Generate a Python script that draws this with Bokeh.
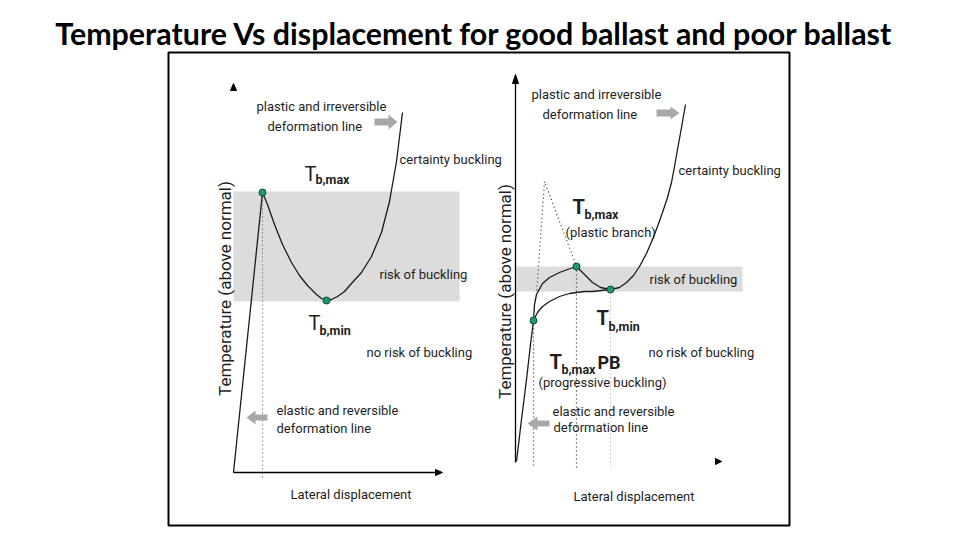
import math
from bokeh.plotting import figure
from bokeh.models import Range1d
from bokeh.core.properties import value
from bokeh.embed import file_html
from bokeh.resources import INLINE

# ---------------- data (schematic; screen-pixel space) -------------
TITLE = "Temperature Vs displacement for good ballast and poor ballast"

# Good ballast (left panel)
good_elastic_x = [234, 263]
good_elastic_y = [473, 193]
good_curve_x = [263, 268, 275, 283, 292, 300, 308, 317, 322, 327, 332, 338, 345, 352, 362, 372, 382, 390, 397, 403]
good_curve_y = [193, 205, 225, 245, 263, 276, 286, 295, 299, 301, 300, 297, 292, 284, 273, 257, 233, 202, 162, 113]
good_pts_x = [263, 327]
good_pts_y = [193, 301]
good_band = dict(left=234, right=460, top=192, bottom=302)

# Poor ballast (right panel)
poor_elastic_x = [517, 522, 527, 531, 534, 535, 537]
poor_elastic_y = [462, 420, 380, 345, 321, 305, 295]
poor_upper_x = [537, 543, 550, 560, 568, 577, 585, 593, 601, 611, 620, 627, 634, 640, 647, 653, 658, 663, 668, 672, 675, 678, 682, 686]
poor_upper_y = [295, 284, 278, 273, 270, 267, 275, 283, 288, 290, 288, 283, 276, 267, 254, 240, 227, 213, 198, 183, 167, 150, 128, 105]
poor_lower_x = [534, 538, 543, 550, 560, 570, 577, 585, 593, 602, 611]
poor_lower_y = [321, 313, 307, 302, 297, 294, 293, 292, 292, 291, 290]
poor_dotted_x = [537, 545, 577]
poor_dotted_y = [295, 182, 267]
poor_pts_x = [534, 577, 611]
poor_pts_y = [321, 267, 290]
poor_band = dict(left=517, right=743, top=267, bottom=292)

# ---------------- figure ----------------
p = figure(width=944, height=532, x_range=Range1d(1, 945), y_range=Range1d(533, 1),
           output_backend="svg", toolbar_location=None, min_border=0)
p.axis.visible = False
p.grid.visible = False
p.outline_line_color = None
p.background_fill_color = "white"

FONT = value("Roboto")
TXT = "#1e1e1e"

# title
p.text(x=[475], y=[33], text=[TITLE], text_font=value("Lato"), text_font_style="bold",
       text_font_size="30.4px", text_align="center", text_baseline="middle", text_color="black")

# frame
p.quad(left=[169], right=[790], top=[53], bottom=[526], fill_color=None, line_color="black", line_width=2)

# bands
for b in (good_band, poor_band):
    p.quad(left=[b["left"]], right=[b["right"]], top=[b["top"]], bottom=[b["bottom"]],
           fill_color="#dcdcdc", line_color=None)

# dotted verticals
p.segment(x0=[good_pts_x[0]], y0=[good_pts_y[0]], x1=[good_pts_x[0]], y1=[480],
          line_color="#555555", line_width=1, line_dash="1 3")
p.segment(x0=poor_pts_x[:2], y0=poor_pts_y[:2], x1=poor_pts_x[:2], y1=[468, 468],
          line_color="#222222", line_width=1.2, line_dash="1 3")
p.segment(x0=[poor_pts_x[2]], y0=[poor_pts_y[2]], x1=[poor_pts_x[2]], y1=[468],
          line_color="#aaaaaa", line_width=1, line_dash="1 3")
p.line(poor_dotted_x, poor_dotted_y, line_color="#333333", line_width=1.2, line_dash="1 3")

# axes
p.line([234, 440], [473, 473], line_color="black", line_width=1.3)
p.line([516, 516], [463, 80], line_color="black", line_width=1.3)
p.patches(xs=[[231, 234, 237], [436, 443, 436], [513, 516, 519], [716, 722, 716]],
          ys=[[91, 84, 91], [470, 473, 476], [84, 75, 84], [459, 462, 465]],
          fill_color="black", line_color="black")

# curves
p.line(good_elastic_x, good_elastic_y, line_color="#1a1a1a", line_width=1.3)
p.line(good_curve_x, good_curve_y, line_color="#1a1a1a", line_width=1.3)
p.line(poor_elastic_x, poor_elastic_y, line_color="#1a1a1a", line_width=1.3)
p.line(poor_upper_x, poor_upper_y, line_color="#1a1a1a", line_width=1.3)
p.line(poor_lower_x, poor_lower_y, line_color="#1a1a1a", line_width=1.3)

# points
p.scatter(good_pts_x + poor_pts_x, good_pts_y + poor_pts_y, size=7,
          fill_color="#1f9a72", line_color="#0b4a36", line_width=1)

# gray block arrows
p.patches(
    xs=[[375, 389, 389, 398, 389, 389, 375], [268, 256, 256, 247, 256, 256, 268],
        [657, 671, 671, 680, 671, 671, 657], [550, 538, 538, 528, 538, 538, 550]],
    ys=[[119, 119, 115, 122.5, 130, 126, 126], [415, 415, 411, 418, 425, 421, 421],
        [110, 110, 107, 113.5, 120, 117, 117], [421, 421, 417, 424, 431, 427, 427]],
    fill_color="#a8a8a8", line_color=None)

# plain labels: (x_left, y_center, text)
labels = [
    (257, 107, "plastic and irreversible"), (268, 127, "deformation line"),
    (400, 160, "certainty buckling"), (380, 275, "risk of buckling"),
    (367, 353, "no risk of buckling"), (277, 411, "elastic and reversible"),
    (277, 429, "deformation line"), (291, 495, "Lateral displacement"),
    (532, 95, "plastic and irreversible"), (543, 115, "deformation line"),
    (679, 171, "certainty buckling"), (566, 233, "(plastic branch)"),
    (650, 280, "risk of buckling"), (649, 353, "no risk of buckling"),
    (539, 383, "(progressive buckling)"), (553, 412, "elastic and reversible"),
    (554, 428, "deformation line"), (574, 497, "Lateral displacement"),
]
p.text(x=[l[0] for l in labels], y=[l[1] for l in labels], text=[l[2] for l in labels],
       text_font=FONT, text_font_size="13px", text_align="left", text_baseline="middle",
       text_color=TXT)

# rotated axis titles
p.text(x=[225, 505], y=[289, 292], text=["Temperature (above normal)"] * 2, angle=math.pi / 2,
       text_font=FONT, text_font_size="17px", text_align="center", text_baseline="middle",
       text_color=TXT)

# T symbols with subscripts
p.text(x=[305, 309], y=[174, 323], text=["T", "T"], text_font=FONT, text_font_size="20px",
       text_align="left", text_baseline="middle", text_color=TXT)
p.text(x=[573, 597, 550], y=[207, 318, 362], text=["T", "T", "T"], text_font=FONT,
       text_font_style="bold", text_font_size="20px", text_align="left",
       text_baseline="middle", text_color=TXT)
p.text(x=[316, 320, 585, 609, 562], y=[180, 331, 215, 327, 370],
       text=["b,max", "b,min", "b,max", "b,min", "b,max"], text_font=FONT,
       text_font_style="bold", text_font_size="12.5px", text_align="left",
       text_baseline="middle", text_color=TXT)
p.text(x=[598], y=[363], text=["PB"], text_font=FONT, text_font_style="bold",
       text_font_size="18px", text_align="left", text_baseline="middle", text_color=TXT)

open("out.html", "w").write(file_html(p, INLINE))
